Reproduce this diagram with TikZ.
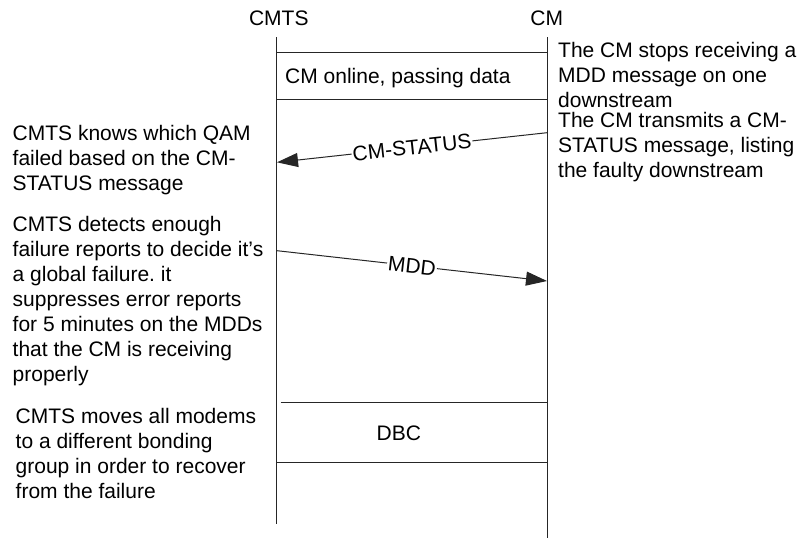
\documentclass[tikz,border=0pt]{standalone}
\usepackage{fontspec}
\setmainfont{Liberation Sans}
\usetikzlibrary{arrows.meta}
\frenchspacing
\begin{document}
\begin{tikzpicture}[x=1pt,y=-1pt,
  lbl/.style={font=\fontsize{21}{25}\selectfont, inner sep=0pt, align=left, anchor=base west},
  hdr/.style={font=\fontsize{21}{25}\selectfont, inner sep=0pt, anchor=base},
  life/.style={line width=1pt, black!85},
  msg/.style={line width=1pt, black!85, -{Triangle[length=21pt,width=14pt]}},
  mlbl/.style={font=\fontsize{21}{25}\selectfont, text=black, fill=white, inner sep=1pt, sloped, midway}
]
\useasboundingbox (0,0) rectangle (800,538);
% headers
\node[hdr] (cmts) at (278.8,25) {CMTS};
\node[hdr] (cm) at (546.7,25) {CM};
% lifelines
\coordinate (cmtsTop) at (276.7,37);
\coordinate (cmtsBot) at (276.7,524);
\coordinate (cmTop) at (547,37);
\coordinate (cmBot) at (547,538);
\draw[life] (cmtsTop) -- (cmtsBot);
\draw[life] (cmTop) -- (cmBot);
% online box
\coordinate (o1a) at (276.7,52.3); \coordinate (o1b) at (547,52.3);
\coordinate (o2a) at (276.7,99); \coordinate (o2b) at (547,99);
\draw[life] (o1a) -- (o1b);
\draw[life] (o2a) -- (o2b);
\node[lbl] (online) at (285,83) {CM online, passing data};
% DBC box
\coordinate (d1a) at (280.7,402.7); \coordinate (d1b) at (547,402.7);
\coordinate (d2a) at (276.7,462.7); \coordinate (d2b) at (547,462.7);
\draw[life] (d1a) -- (d1b);
\draw[life] (d2a) -- (d2b);
\node[hdr] (dbc) at (398.8,440) {DBC};
% messages
\coordinate (s1) at (547,132.7); \coordinate (s2) at (277,162.3);
\draw[msg] (s1) -- node[mlbl] (cmstatus) {CM-STATUS} (s2);
\coordinate (m1) at (277,250.7); \coordinate (m2) at (547,281);
\draw[msg] (m1) -- node[mlbl] (mdd) {MDD} (m2);
% right notes (anchored at the baseline of the last line)
\node[lbl] (r1) at (558,107.5) {The CM stops receiving a\\MDD message on one\\downstream};
\node[lbl] (r2) at (558,177.5) {The CM transmits a CM-\\STATUS message, listing\\the faulty downstream};
% left notes
\node[lbl] (l1) at (12.5,190.7) {CMTS knows which QAM\\failed based on the CM-\\STATUS message};
\node[lbl] (l2) at (12.5,381) {CMTS detects enough\\failure reports to decide it’s\\a global failure. it\\suppresses error reports\\for 5 minutes on the MDDs\\that the CM is receiving\\properly};
\node[lbl] (l3) at (15.5,498) {CMTS moves all modems\\to a different bonding\\group in order to recover\\from the failure};
\end{tikzpicture}
\end{document}
